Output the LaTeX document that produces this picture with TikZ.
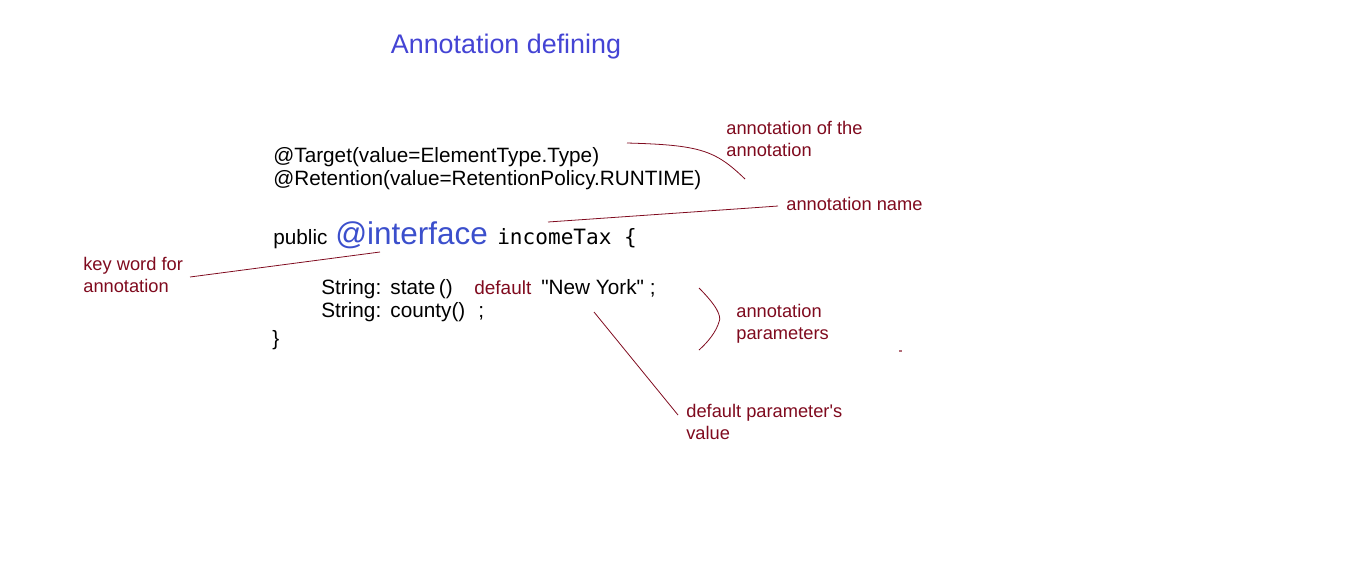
\documentclass[tikz,border=0pt]{standalone}
\usepackage{fontspec}
\setmainfont{Liberation Sans}[Ligatures=TeXOff]
\setmonofont{DejaVu Sans Mono}
\usetikzlibrary{positioning,calc}
\definecolor{anTitle}{HTML}{4444D4}
\definecolor{anKey}  {HTML}{3B4FCC}
\definecolor{anNote} {HTML}{7F0A1E}
\definecolor{anInk}  {HTML}{000000}

\begin{document}
\begin{tikzpicture}[x=0.02cm,y=-0.02cm,
    code/.style={anchor=base west,inner sep=0pt,text=anInk,
                 font=\fontsize{11.8}{14}\selectfont},
    note/.style={anchor=base west,inner sep=0pt,align=left,text=anNote,
                 font=\fontsize{10.4}{12.5}\selectfont},
    lead/.style={draw=anNote,line width=0.45pt}]
    \useasboundingbox (0,0) rectangle (1360,562);

    \node[inner sep=0pt,text=anTitle,font=\fontsize{15.3}{18}\selectfont]
      (title) at (506,47) {Annotation defining};

    % annotation source
    \node[code] (tgt) at (273,162) {@Target(value=ElementType.Type)};
    \node[code] (ret) at (273,185) {@Retention(value=RetentionPolicy.RUNTIME)};
    \node[code] (pub) at (273,244) {public};
    \node[code,text=anKey,font=\fontsize{17.9}{20}\selectfont,
          base right=4pt of pub] (iface) {@interface};
    \node[code,font=\ttfamily\fontsize{12}{14}\selectfont,
          base right=5pt of iface] (name) {incomeTax \{};
    \node[code] (st) at (321,294) {String:\ \,state\,()};
    \node[code,text=anNote,font=\fontsize{10.8}{13}\selectfont] (dflt) at (474,294) {default};
    \node[code] (ny) at (541,294) {"New York" ;};
    \node[code] (cty) at (321,317) {String:\ \,county()};
    \node[code] (semi) at (478,317) {;};
    \node[code] (close) at (272,345) {\}};

    % notes (base is the last line)
    \node[note] (nAnno) at (726,156) {annotation of the\\annotation};
    \node[note] (nName) at (786,210) {annotation name};
    \node[note] (nKey)  at (83,292)  {key word for\\annotation};
    \node[note] (nPar)  at (736,339) {annotation\\parameters};
    \node[note] (nDef)  at (686,439) {default parameter's\\value};

    % leader lines
    \coordinate (aS) at (627,143);
    \coordinate (aE) at (745,179);
    \draw[lead] (aS) .. controls (700,145) and (715,150) .. (aE);
    \coordinate (mS) at (548,222);
    \coordinate (mE) at (778,206);
    \draw[lead] (mS) -- (750,208) -- (mE);
    \coordinate (kS) at (190,277);
    \coordinate (kE) at (380,252);
    \draw[lead] (kS) -- (kE);
    \coordinate (dS) at (594,312);
    \coordinate (dE) at (678,415);
    \draw[lead] (dS) -- (dE);
    \draw[lead] (699,288) .. controls (716,305) and (722,316) .. (719,322)
                          .. controls (716,332) and (708,342) .. (699,350);
    \fill[anNote!60] (899,350) rectangle (902,352);
\end{tikzpicture}
\end{document}
